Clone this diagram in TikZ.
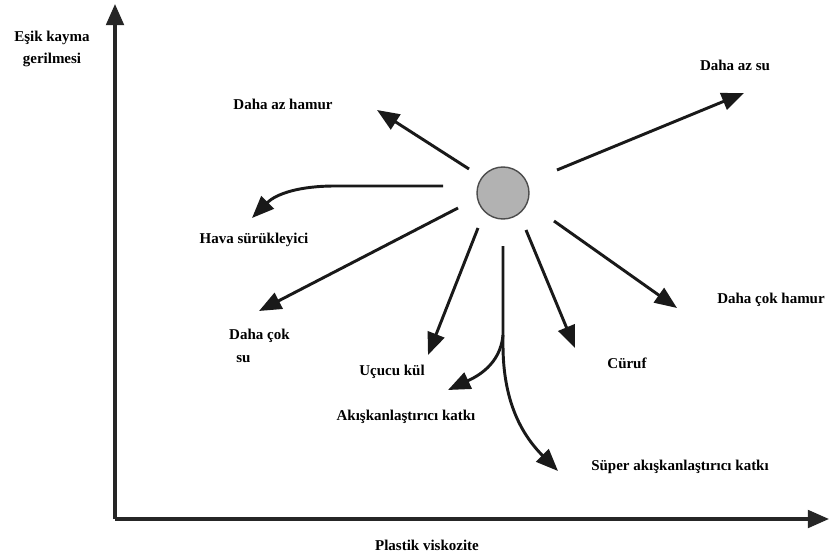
\documentclass[tikz,border=0pt]{standalone}
\usepackage{fontspec}
\setmainfont{Liberation Serif}
\usepackage{tikz}
\usetikzlibrary{arrows.meta}
\usetikzlibrary{shapes.geometric}
\pgfdeclarelayer{edgelayer}
\pgfdeclarelayer{nodelayer}
\pgfsetlayers{edgelayer,nodelayer,main}
\tikzstyle{none}=[inner sep=0pt]
\tikzstyle{state}=[circle,fill=gray!60,draw=black!70,line width=1.2pt,minimum size=1.56cm,inner sep=0pt]
\tikzstyle{transition}=[-{Triangle[length=19pt,width=15pt]},draw=black!90,line width=2.5pt]
\tikzstyle{axis}=[-{Triangle[length=18pt,width=15pt]},draw=black!85,line width=2.8pt]
\tikzstyle{term}=[inner sep=0pt,align=center,font=\bfseries\fontsize{12.8}{19}\selectfont]

\begin{document}
\begin{tikzpicture}[x=0.03cm,y=0.03cm]
	\useasboundingbox (0,0) rectangle (830,-558);
	\begin{pgfonlayer}{nodelayer}
		\node [style=state] (0) at (503,-193) {};
		\node [style=none] (1) at (115,-519) {};
		\node [style=none] (2) at (115,-4) {};
		\node [style=none] (3) at (829,-519) {};
		\node [style=none] (4) at (469,-169) {};
		\node [style=none] (5) at (377,-110) {};
		\node [style=none] (6) at (443,-186) {};
		\node [style=none] (7) at (335,-186) {};
		\node [style=none] (8) at (252,-218) {};
		\node [style=none] (9) at (458,-208) {};
		\node [style=none] (10) at (259,-311) {};
		\node [style=none] (11) at (478,-228) {};
		\node [style=none] (12) at (428,-355) {};
		\node [style=none] (13) at (503,-246) {};
		\node [style=none] (14) at (503,-335) {};
		\node [style=none] (15) at (448,-390) {};
		\node [style=none] (16) at (503,-345) {};
		\node [style=none] (17) at (558,-471) {};
		\node [style=none] (18) at (526,-230) {};
		\node [style=none] (19) at (575,-348) {};
		\node [style=none] (20) at (554,-221) {};
		\node [style=none] (21) at (677,-308) {};
		\node [style=none] (22) at (557,-170) {};
		\node [style=none] (23) at (744,-93) {};
		\node [style=term] (24) at (52,-49) {Eşik kayma\\gerilmesi};
		\node [style=term] (25) at (283,-104) {Daha az hamur};
		\node [style=term] (26) at (254,-240) {Hava sürükleyici};
		\node [style=term,align=left,anchor=west] (27) at (229,-346) {Daha çok\\\hspace*{6pt}su};
		\node [style=term] (28) at (392,-372) {Uçucu kül};
		\node [style=term] (29) at (406,-417) {Akışkanlaştırıcı katkı};
		\node [style=term] (30) at (680,-467) {Süper akışkanlaştırıcı katkı};
		\node [style=term] (31) at (627,-363) {Cüruf};
		\node [style=term] (32) at (771,-300) {Daha çok hamur};
		\node [style=term] (33) at (735,-65) {Daha az su};
		\node [style=term] (34) at (427,-545) {Plastik viskozite};
	\end{pgfonlayer}
	\begin{pgfonlayer}{edgelayer}
		\draw [style=axis] (1.center) to (2.center);
		\draw [style=axis] (1.center) to (3.center);
		\draw [style=transition] (4.center) to (5.center);
		\draw [style=transition] (6.center) -- (7.center) to[out=180,in=45] (8.center);
		\draw [style=transition] (9.center) to (10.center);
		\draw [style=transition] (11.center) to (12.center);
		\draw [style=transition] (14.center) to[out=-95,in=25] (15.center);
		\draw [style=transition] (13.center) -- (16.center) to[out=-90,in=135] (17.center);
		\draw [style=transition] (18.center) to (19.center);
		\draw [style=transition] (20.center) to (21.center);
		\draw [style=transition] (22.center) to (23.center);
	\end{pgfonlayer}
\end{tikzpicture}
\end{document}
